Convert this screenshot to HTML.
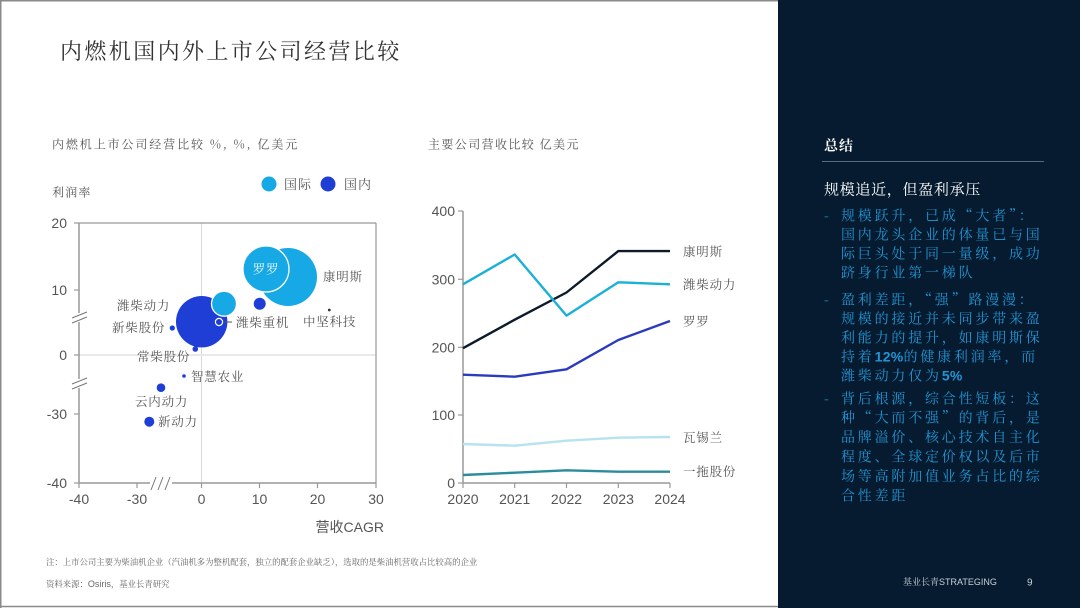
<!DOCTYPE html>
<html><head><meta charset="utf-8">
<style>
html,body{margin:0;padding:0;background:#fff;}
svg{display:block;}
.cj{font-family:"Noto Serif CJK SC","Liberation Serif",serif;}
.num{font-family:"Liberation Sans",sans-serif;}
</style></head>
<body>
<svg width="1080" height="608" viewBox="0 0 1080 608" xmlns="http://www.w3.org/2000/svg">
<rect x="0" y="0" width="1080" height="608" fill="#fff"/>
<!-- page border -->
<line x1="0" y1="0.75" x2="778" y2="0.75" stroke="#8a8a8a" stroke-width="1.5"/>
<line x1="0.75" y1="0" x2="0.75" y2="608" stroke="#8a8a8a" stroke-width="1.5"/>
<line x1="0" y1="606.5" x2="778" y2="606.5" stroke="#8a8a8a" stroke-width="1.5"/>

<!-- title -->
<text class="cj" x="60" y="59" font-size="22" fill="#333" letter-spacing="2.4">内燃机国内外上市公司经营比较</text>

<!-- ===== scatter chart ===== -->
<text class="cj" x="52" y="148.6" font-size="12" fill="#555" letter-spacing="1.9">内燃机上市公司经营比较 %, %, 亿美元</text>
<text class="cj" x="52" y="196.5" font-size="12" fill="#555" letter-spacing="1.2">利润率</text>
<circle cx="269" cy="184" r="7.5" fill="#17a9e5"/>
<text class="cj" x="284" y="189" font-size="13" fill="#555" letter-spacing="1">国际</text>
<circle cx="328" cy="184" r="7.5" fill="#1e3ed6"/>
<text class="cj" x="344" y="189" font-size="13" fill="#555" letter-spacing="1">国内</text>

<!-- gridlines -->
<line x1="201.5" y1="223" x2="201.5" y2="483" stroke="#d8d8d8" stroke-width="1"/>
<line x1="79" y1="355" x2="376" y2="355" stroke="#e2e2e2" stroke-width="1.5"/>
<!-- frame -->
<line x1="79" y1="223" x2="376" y2="223" stroke="#999" stroke-width="1.2"/>
<line x1="376" y1="223" x2="376" y2="483" stroke="#999" stroke-width="1.2"/>
<line x1="79" y1="223" x2="79" y2="483" stroke="#999" stroke-width="1.5"/>
<line x1="79" y1="483" x2="376" y2="483" stroke="#999" stroke-width="1.5"/>
<!-- ticks -->
<g stroke="#999" stroke-width="1.2">
<line x1="74" y1="223" x2="79" y2="223"/>
<line x1="74" y1="290" x2="79" y2="290"/>
<line x1="74" y1="355" x2="79" y2="355"/>
<line x1="74" y1="414" x2="79" y2="414"/>
<line x1="74" y1="483" x2="79" y2="483"/>
<line x1="79" y1="483" x2="79" y2="488"/>
<line x1="137" y1="483" x2="137" y2="488"/>
<line x1="201.5" y1="483" x2="201.5" y2="488"/>
<line x1="259.5" y1="483" x2="259.5" y2="488"/>
<line x1="317.5" y1="483" x2="317.5" y2="488"/>
<line x1="376" y1="483" x2="376" y2="488"/>
</g>
<!-- breaks -->
<rect x="76" y="313" width="7" height="9" fill="#fff"/>
<g stroke="#777" stroke-width="1">
<line x1="72" y1="318" x2="87" y2="312"/>
<line x1="72" y1="323" x2="87" y2="317"/>
</g>
<rect x="76" y="379" width="7" height="9" fill="#fff"/>
<g stroke="#777" stroke-width="1">
<line x1="72" y1="384" x2="87" y2="378"/>
<line x1="72" y1="389" x2="87" y2="383"/>
</g>
<rect x="150" y="480" width="22" height="6" fill="#fff"/>
<g stroke="#777" stroke-width="1">
<line x1="151" y1="490" x2="156" y2="477"/>
<line x1="158" y1="490" x2="163" y2="477"/>
<line x1="165" y1="490" x2="170" y2="477"/>
</g>
<!-- tick labels -->
<g class="num" font-size="14" fill="#555" text-anchor="end">
<text x="67" y="228">20</text>
<text x="67" y="295">10</text>
<text x="67" y="360">0</text>
<text x="67" y="419">-30</text>
<text x="67" y="488">-40</text>
</g>
<g class="num" font-size="14" fill="#555" text-anchor="middle">
<text x="79" y="504">-40</text>
<text x="137" y="504">-30</text>
<text x="201.5" y="504">0</text>
<text x="259.5" y="504">10</text>
<text x="317.5" y="504">20</text>
<text x="376" y="504">30</text>
</g>
<text x="384" y="532" font-size="14" fill="#555" text-anchor="end" font-family="Liberation Sans, Noto Sans CJK SC, sans-serif">营收CAGR</text>

<!-- bubbles -->
<circle cx="288" cy="277" r="29" fill="#17a9e5"/>
<circle cx="266" cy="269" r="23" fill="#17a9e5" stroke="#fff" stroke-width="1.3"/>
<circle cx="201.7" cy="321.7" r="25.7" fill="#1e3ed6"/>
<circle cx="224" cy="303.7" r="12.5" fill="#17a9e5" stroke="#fff" stroke-width="1.3"/>
<circle cx="219" cy="322" r="3.6" fill="#1e3ed6" stroke="#fff" stroke-width="1.2"/>
<circle cx="259.7" cy="303.7" r="6" fill="#1e3ed6"/>
<circle cx="329.3" cy="310" r="1.4" fill="#333"/>
<circle cx="172.3" cy="328" r="2.6" fill="#1e3ed6"/>
<circle cx="195.3" cy="349" r="2.8" fill="#1e3ed6"/>
<circle cx="184" cy="376" r="1.8" fill="#1e3ed6"/>
<circle cx="161" cy="387.7" r="4.3" fill="#1e3ed6"/>
<circle cx="149.3" cy="421.7" r="5" fill="#1e3ed6"/>
<line x1="224" y1="322" x2="232" y2="322" stroke="#555" stroke-width="1"/>

<!-- bubble labels -->
<g class="cj" font-size="12.5" fill="#555" letter-spacing="0.8">
<text x="323" y="281">康明斯</text>
<text x="117" y="310">潍柴动力</text>
<text x="112" y="332">新柴股份</text>
<text x="236" y="327">潍柴重机</text>
<text x="303" y="326">中坚科技</text>
<text x="137" y="361">常柴股份</text>
<text x="191" y="381">智慧农业</text>
<text x="135" y="406">云内动力</text>
<text x="158" y="426">新动力</text>
</g>
<text class="cj" x="266" y="273.5" font-size="12.5" fill="#fff" text-anchor="middle" letter-spacing="0.8">罗罗</text>

<!-- ===== line chart ===== -->
<text class="cj" x="428" y="148.6" font-size="12" fill="#555" letter-spacing="1.4">主要公司营收比较 亿美元</text>
<line x1="463" y1="211" x2="463" y2="483" stroke="#999" stroke-width="1.5"/>
<line x1="463" y1="483" x2="670" y2="483" stroke="#999" stroke-width="1.5"/>
<g stroke="#999" stroke-width="1.2">
<line x1="458" y1="211" x2="463" y2="211"/>
<line x1="458" y1="279.3" x2="463" y2="279.3"/>
<line x1="458" y1="347.3" x2="463" y2="347.3"/>
<line x1="458" y1="415" x2="463" y2="415"/>
<line x1="458" y1="483" x2="463" y2="483"/>
<line x1="463" y1="483" x2="463" y2="488"/>
<line x1="514.7" y1="483" x2="514.7" y2="488"/>
<line x1="566.5" y1="483" x2="566.5" y2="488"/>
<line x1="618.3" y1="483" x2="618.3" y2="488"/>
<line x1="670" y1="483" x2="670" y2="488"/>
</g>
<g class="num" font-size="14" fill="#555" text-anchor="end">
<text x="455" y="216">400</text>
<text x="455" y="284.3">300</text>
<text x="455" y="352.3">200</text>
<text x="455" y="420">100</text>
<text x="455" y="488">0</text>
</g>
<g class="num" font-size="14" fill="#555" text-anchor="middle">
<text x="463" y="504">2020</text>
<text x="514.7" y="504">2021</text>
<text x="566.5" y="504">2022</text>
<text x="618.3" y="504">2023</text>
<text x="670" y="504">2024</text>
</g>
<g fill="none" stroke-width="2.4" stroke-linejoin="round">
<polyline stroke="#b6e3ef" points="463,444 514.7,445.7 566.5,440.7 618.3,437.7 670,437"/>
<polyline stroke="#2d8c9a" points="463,475 514.7,472.7 566.5,470.3 618.3,471.7 670,471.7"/>
<polyline stroke="#2b3bbd" points="463,374.7 514.7,376.7 566.5,369.3 618.3,340 670,321"/>
<polyline stroke="#0c1a2a" points="463,348.2 514.7,319.7 566.5,292.5 618.3,251.1 670,251.1"/>
<polyline stroke="#1ab0d8" points="463,284.3 514.7,254.5 566.5,315.6 618.3,282.3 670,284.3"/>
</g>
<g class="cj" font-size="12.5" fill="#555" letter-spacing="0.8">
<text x="683" y="256">康明斯</text>
<text x="683" y="289">潍柴动力</text>
<text x="683" y="326">罗罗</text>
<text x="683" y="442">瓦锡兰</text>
<text x="683" y="476">一拖股份</text>
</g>

<!-- footnotes -->
<text class="cj" x="46" y="565" font-size="8.4" fill="#666">注：上市公司主要为柴油机企业（汽油机多为整机配套，独立的配套企业缺乏），选取的是柴油机营收占比较高的企业</text>
<text x="46" y="587" font-size="8.4" fill="#666" font-family="Noto Serif CJK SC, serif">资料来源：<tspan font-family="Liberation Sans, sans-serif" font-size="9">Osiris</tspan>，基业长青研究</text>

<!-- ===== right panel ===== -->
<rect x="778" y="0" width="302" height="608" fill="#061b2f"/>
<text class="cj" x="824" y="150.5" font-size="14" font-weight="bold" fill="#fff" letter-spacing="1">总结</text>
<line x1="822" y1="161.5" x2="1044" y2="161.5" stroke="#5a6b7d" stroke-width="1"/>
<text class="cj" x="824" y="194.7" font-size="15" fill="#fff" letter-spacing="0.7">规模追近，但盈利承压</text>
<g class="cj" font-size="14" fill="#2196d6" letter-spacing="2.8">
<text x="824" y="220.3">-</text>
<text x="841" y="220.3">规模跃升，已成“大者”：</text>
<text x="841" y="239.3">国内龙头企业的体量已与国</text>
<text x="841" y="258.3">际巨头处于同一量级，成功</text>
<text x="841" y="277.3">跻身行业第一梯队</text>
<text x="824" y="304.3">-</text>
<text x="841" y="304.3">盈利差距，“强”路漫漫：</text>
<text x="841" y="323.3">规模的接近并未同步带来盈</text>
<text x="841" y="342.3">利能力的提升，如康明斯保</text>
<text x="841" y="361.3">持着<tspan font-family="Liberation Sans, sans-serif" font-weight="bold" letter-spacing="0.3">12%</tspan>的健康利润率，而</text>
<text x="841" y="380.3">潍柴动力仅为<tspan font-family="Liberation Sans, sans-serif" font-weight="bold" letter-spacing="0.3">5%</tspan></text>
<text x="824" y="403.3">-</text>
<text x="841" y="403.3">背后根源，综合性短板：这</text>
<text x="841" y="422.7">种“大而不强”的背后，是</text>
<text x="841" y="442.1">品牌溢价、核心技术自主化</text>
<text x="841" y="461.5">程度、全球定价权以及后市</text>
<text x="841" y="480.9">场等高附加值业务占比的综</text>
<text x="841" y="500.3">合性差距</text>
</g>
<text x="903" y="585" font-size="9" fill="#c8d0d8" font-family="Noto Serif CJK SC, serif">基业长青<tspan font-family="Liberation Sans, sans-serif">STRATEGING</tspan></text>
<text x="1027" y="585.5" font-size="10" fill="#c8d0d8" font-family="Liberation Sans, sans-serif">9</text>
</svg>
</body></html>
